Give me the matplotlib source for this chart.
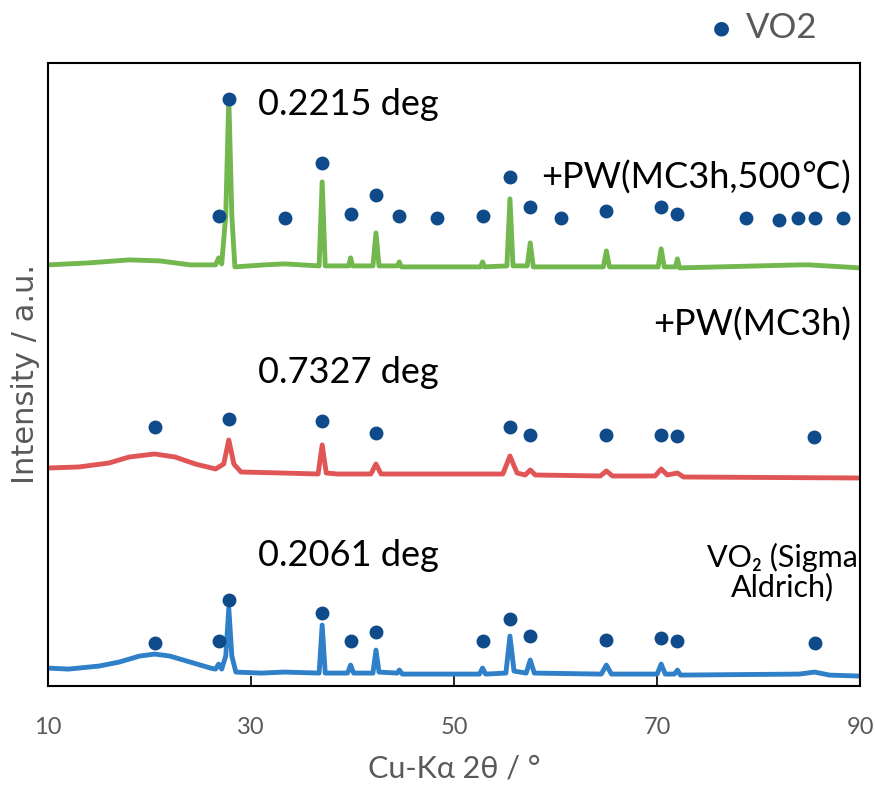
import matplotlib.pyplot as plt

# === DATA (2theta in deg, intensity in arbitrary units, patterns already stacked) ===
blue_x = [10.0, 12.0, 15.0, 17.0, 19.0, 20.5, 22.0, 24.0, 26.0, 26.5, 26.8, 27.1, 27.5, 27.8, 28.1, 28.5,
          31.0, 33.3, 36.7, 37.0, 37.3, 39.5, 39.8, 40.1, 42.0, 42.3, 42.6, 44.4, 44.6, 44.9, 52.5, 52.8,
          53.1, 55.1, 55.5, 55.9, 57.1, 57.5, 57.9, 64.5, 65.0, 65.5, 70.0, 70.4, 70.8, 71.7, 72.0, 72.3,
          84.0, 85.5, 87.0, 90.0]
blue_y = [18, 17, 20, 24, 30, 32, 30, 24, 18, 17, 22, 17, 30, 78, 30, 14,
          13, 14, 13, 61, 13, 13, 21, 13, 13, 36, 14, 13, 16, 12, 12, 18,
          12, 13, 50, 15, 13, 26, 13, 12, 21, 12, 12, 22, 12, 12, 16, 11,
          12, 14, 11, 10]

red_x = [10.0, 13.0, 16.0, 18.0, 20.5, 22.5, 24.5, 26.5, 27.3, 27.8, 28.3, 29.0, 33.0, 36.6, 37.0, 37.4,
         38.5, 41.8, 42.3, 42.8, 54.8, 55.5, 56.2, 57.0, 57.5, 58.0, 64.4, 65.0, 65.6, 69.8, 70.4, 71.0,
         72.0, 72.6, 90.0]
red_y = [218, 219, 223, 229, 232, 229, 222, 217, 222, 246, 222, 214, 213, 212, 241, 213,
         212, 212, 222, 212, 212, 230, 213, 211, 216, 211, 210, 215, 210, 210, 217, 211,
         213, 209, 208]

green_x = [10.0, 14.0, 18.0, 21.0, 24.0, 26.5, 26.8, 27.1, 27.5, 27.8, 28.1, 28.4, 31.3, 33.3, 36.7, 37.0,
           37.3, 39.6, 39.8, 40.0, 42.0, 42.3, 42.6, 44.4, 44.6, 44.8, 52.6, 52.8, 53.0, 55.2, 55.5, 55.8,
           57.2, 57.5, 57.8, 64.7, 65.0, 65.3, 70.1, 70.4, 70.7, 71.8, 72.0, 72.2, 84.0, 85.0, 90.0]
green_y = [421, 423, 426, 425, 421, 421, 428, 422, 470, 588, 470, 419, 421, 422, 420, 504,
           420, 420, 428, 420, 420, 453, 420, 420, 424, 419, 419, 424, 419, 420, 487, 420,
           420, 443, 419, 419, 435, 419, 419, 437, 419, 419, 427, 418, 421, 421, 418]

# VO2 reference markers
blue_dot_x = [20.5, 26.8, 27.8, 37.0, 39.8, 42.3, 52.8, 55.5, 57.5, 65.0, 70.4, 72.0, 85.6]
blue_dot_y = [43, 45, 86, 73, 45, 54, 45, 67, 50, 46, 48, 45, 43]
red_dot_x = [20.5, 27.8, 37.0, 42.3, 55.5, 57.5, 65.0, 70.4, 72.0, 85.5]
red_dot_y = [259, 267, 265, 253, 259, 251, 251, 251, 250, 249]
green_dot_x = [26.8, 27.8, 33.3, 37.0, 39.8, 42.3, 44.6, 48.3, 52.8, 55.5, 57.5, 60.5, 65.0, 70.4,
               72.0, 78.8, 82.0, 83.9, 85.6, 88.3]
green_dot_y = [470, 587, 468, 523, 472, 491, 470, 468, 470, 509, 479, 468, 475, 479,
               472, 468, 466, 468, 468, 468]

x_ticks = [10, 30, 50, 70, 90]

# === STYLE ===
plt.rcParams['font.family'] = ['Lato', 'DejaVu Sans']
dot_color = '#0f4a8a'
grey = '#595959'

fig = plt.figure(figsize=(8.75, 7.85), dpi=100)
ax = fig.add_axes([0.055, 0.126, 0.928, 0.794])

ax.plot(blue_x, blue_y, color='#2f80c8', lw=3.5, solid_joinstyle='round')
ax.plot(red_x, red_y, color='#e05555', lw=3.5, solid_joinstyle='round')
ax.plot(green_x, green_y, color='#72b84f', lw=3.5, solid_joinstyle='round')

for dx, dy in [(blue_dot_x, blue_dot_y), (red_dot_x, red_dot_y), (green_dot_x, green_dot_y)]:
    ax.plot(dx, dy, 'o', color=dot_color, ms=9, ls='none')

ax.set_xlim(10, 90)
ax.set_ylim(0, 623)
ax.set_xticks(x_ticks)
ax.set_xticklabels([str(t) for t in x_ticks])
ax.set_yticks([])
ax.tick_params(axis='x', direction='in', length=7, width=1.2, pad=22,
               labelsize=17, labelcolor=grey)
for s in ax.spines.values():
    s.set_linewidth(1.5)
    s.set_color('black')

ax.set_xlabel('Cu-Kα 2θ / °', fontsize=22, color=grey, labelpad=12)
ax.set_ylabel('Intensity / a.u.', fontsize=22, color=grey, labelpad=6,
              family=['DejaVu Sans'])

# annotations
txt = dict(fontsize=26, color='black', va='center')
ax.text(30.7, 581, '0.2215 deg', **txt)
ax.text(30.7, 313, '0.7327 deg', **txt)
ax.text(30.7, 131, '0.2061 deg', **txt)
ax.text(89.1, 508, '+PW(MC3h,500℃)', ha='right', **txt)
ax.text(89.1, 361, '+PW(MC3h)', ha='right', **txt)
ax.text(82.3, 114, 'VO₂ (Sigma\nAldrich)', ha='center', fontsize=22, color='black',
        va='center', linespacing=1.05)

# legend
fig.text(0.825, 0.964, '●', color=dot_color, fontsize=14, ha='center', va='center',
         family=['DejaVu Sans'])
fig.text(0.853, 0.964, 'VO2', color=grey, fontsize=25, ha='left', va='center')

fig.savefig('out.png', dpi=100)
